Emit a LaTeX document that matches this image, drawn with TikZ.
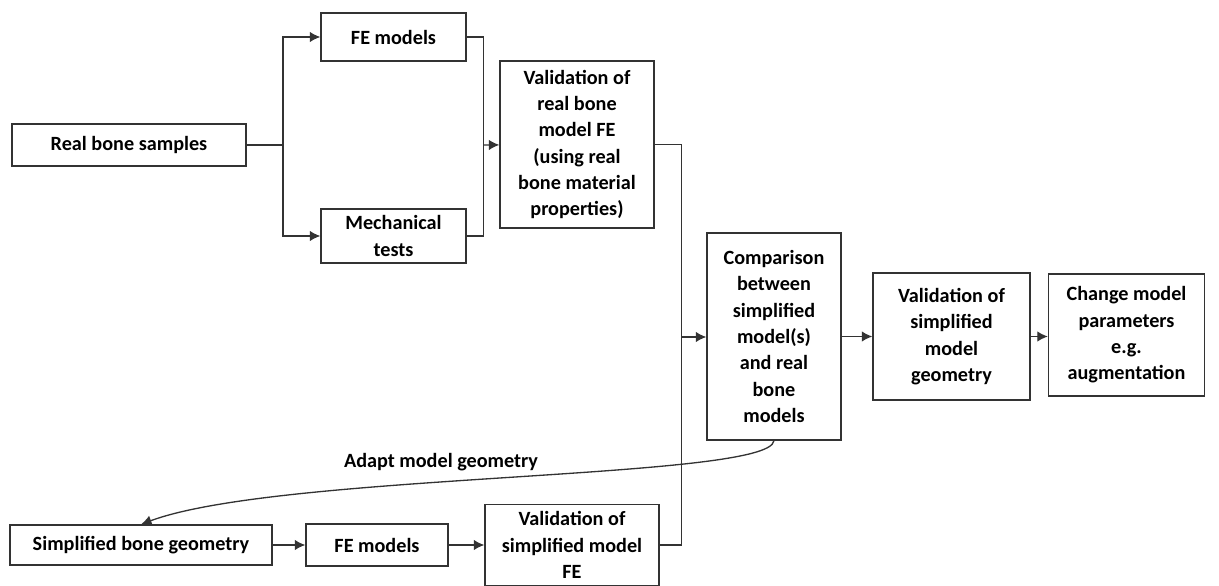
\documentclass[tikz,border=0pt]{standalone}
\usepackage{fontspec}
\setmainfont{Carlito}
\usetikzlibrary{arrows.meta}
\tikzstyle{BoxNode}=[rectangle, draw=black!80, line width=0.75pt, align=center, inner sep=2pt, font=\fontsize{11.5}{15}\selectfont\bfseries]
\tikzstyle{LabelNode}=[font=\fontsize{11.5}{15}\selectfont\bfseries]
\tikzstyle{PlainEdge}=[draw=black!80, line width=0.75pt]
\tikzstyle{FlowEdge}=[PlainEdge, -{Latex[length=6pt,width=6pt]}]

\begin{document}
\begin{tikzpicture}
\useasboundingbox (0,0) rectangle (24.38,-11.72);

\node[BoxNode, minimum width=4.68cm, minimum height=0.84cm](RealBone) at (2.58,-2.9) {Real bone samples};
\node[BoxNode, minimum width=2.9cm, minimum height=0.96cm](FETop) at (7.87,-0.74) {FE models};
\node[BoxNode, minimum width=2.9cm, minimum height=1.08cm](MechTests) at (7.87,-4.72) {Mechanical\\tests};
\node[BoxNode, minimum width=3.08cm, minimum height=3.34cm](ValReal) at (11.54,-2.89) {Validation of\\real bone\\model FE\\(using real\\bone material\\properties)};
\node[BoxNode, minimum width=2.68cm, minimum height=4.14cm](Compare) at (15.48,-6.73) {Comparison\\between\\simplified\\model(s)\\and real\\bone\\models};
\node[BoxNode, minimum width=3.14cm, minimum height=2.54cm](ValSimp) at (19.03,-6.73) {Validation of\\simplified\\model\\geometry};
\node[BoxNode, minimum width=3.12cm, minimum height=2.44cm](ChangeParams) at (22.53,-6.7) {Change model\\parameters\\e.g.\\augmentation};
\node[BoxNode, minimum width=5.24cm, minimum height=0.8cm](SimpGeom) at (2.82,-10.9) {Simplified bone geometry};
\node[BoxNode, minimum width=2.84cm, minimum height=0.84cm](FEBottom) at (7.54,-10.9) {FE models};
\node[BoxNode, minimum width=3.48cm, minimum height=1.62cm](ValSimpFE) at (11.44,-10.9) {Validation of\\simplified model\\FE};
\node[LabelNode](AdaptLabel) at (8.82,-9.24) {Adapt model geometry};

\coordinate (Split) at (5.66,-2.9);
\coordinate (Merge) at (9.67,-2.9);
\coordinate (Joint) at (13.63,-6.74);

\draw[PlainEdge](RealBone) -- (Split);
\draw[FlowEdge](Split) |- (FETop);
\draw[FlowEdge](Split) |- (MechTests);
\draw[PlainEdge](FETop) -| (Merge);
\draw[PlainEdge](MechTests) -| (Merge);
\draw[FlowEdge](Merge) -- (ValReal);
\draw[PlainEdge](ValReal.east) -| (Joint);
\draw[PlainEdge](ValSimpFE.east) -| (Joint);
\draw[FlowEdge](Joint) -- (Compare.west |- Joint);
\draw[FlowEdge](Compare) -- (ValSimp);
\draw[FlowEdge](ValSimp) -- (ChangeParams.west |- ValSimp);
\draw[FlowEdge](SimpGeom) -- (FEBottom);
\draw[FlowEdge](FEBottom) -- (ValSimpFE);
\draw[FlowEdge](Compare.south) .. controls (15.4,-9.6) and (5.6,-9.45) .. (SimpGeom.north);
\end{tikzpicture}
\end{document}
